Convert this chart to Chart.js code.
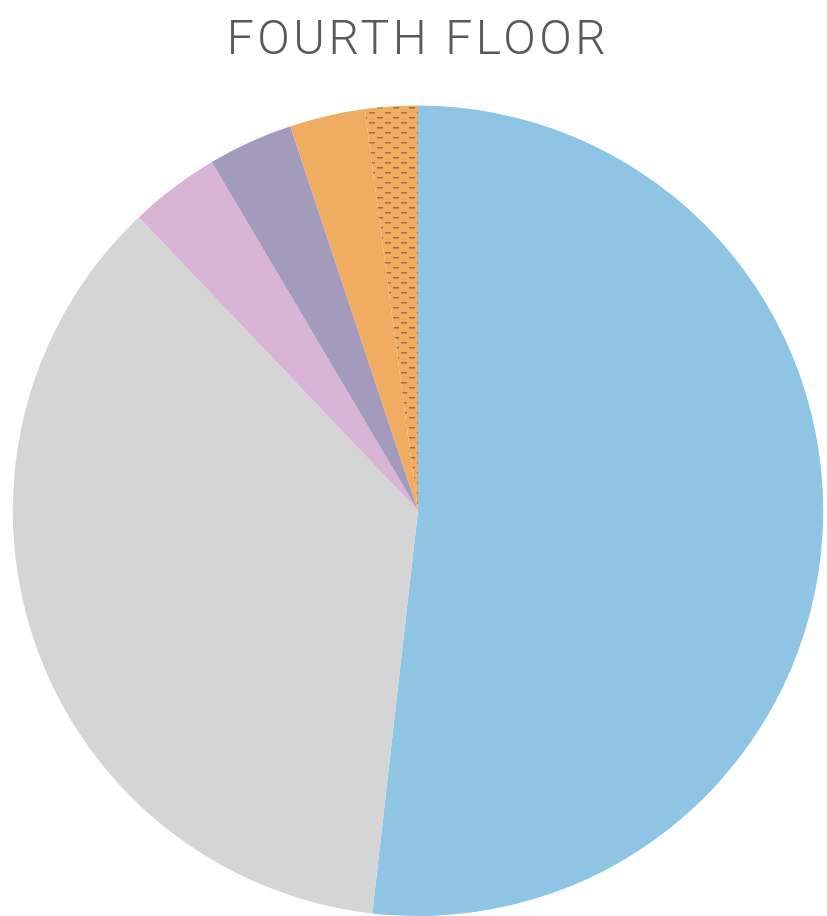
<!DOCTYPE html>
<html>
<head>
<meta charset="utf-8">
<script src="https://cdn.jsdelivr.net/npm/chart.js@4/dist/chart.umd.min.js"></script>
<style>
  html, body { margin: 0; padding: 0; background: #ffffff; }
  #wrap { width: 827px; height: 916px; }
</style>
</head>
<body>
<div id="wrap"><canvas id="floorChart"></canvas></div>
<script>
const labels = ['Segment A', 'Segment B', 'Segment C', 'Segment D', 'Segment E', 'Segment F'];
const values = [51.8, 36.1, 3.6, 3.4, 3.0, 2.1];
const colors = ['#8ec4e4', '#d4d5d4', '#d8b5d6', '#a29bbc', '#f0ad62'];

// dashed texture for the last slice
function dashPattern(base, dash) {
    const c = document.createElement('canvas');
    c.width = 16;
    c.height = 10;
    const g = c.getContext('2d');
    g.fillStyle = base;
    g.fillRect(0, 0, 16, 10);
    g.fillStyle = dash;
    g.fillRect(1, 2, 6, 1.5);
    g.fillRect(9, 7, 6, 1.5);
    return g.createPattern(c, 'repeat');
}

const ctx = document.getElementById('floorChart').getContext('2d');
const bg = colors.concat([dashPattern('#f0ad62', '#a06f42')]);

// wider title tracking
const spacing = {
    id: 'spacing',
    beforeDraw(chart) {
        chart.ctx.letterSpacing = '3.5px';
    }
};

new Chart(ctx, {
    type: 'pie',
    data: {
        labels: labels,
        datasets: [{
            data: values,
            backgroundColor: bg,
            borderWidth: 0
        }]
    },
    options: {
        responsive: true,
        maintainAspectRatio: false,
        animation: false,
        layout: { padding: { left: 9 } },
        plugins: {
            legend: { display: false },
            tooltip: { enabled: false },
            title: {
                display: true,
                text: 'FOURTH FLOOR',
                color: '#595959',
                font: { family: 'Roboto', size: 48, weight: 300 },
                padding: { top: 13, bottom: 35 }
            }
        }
    },
    plugins: [spacing]
});
</script>
</body>
</html>
